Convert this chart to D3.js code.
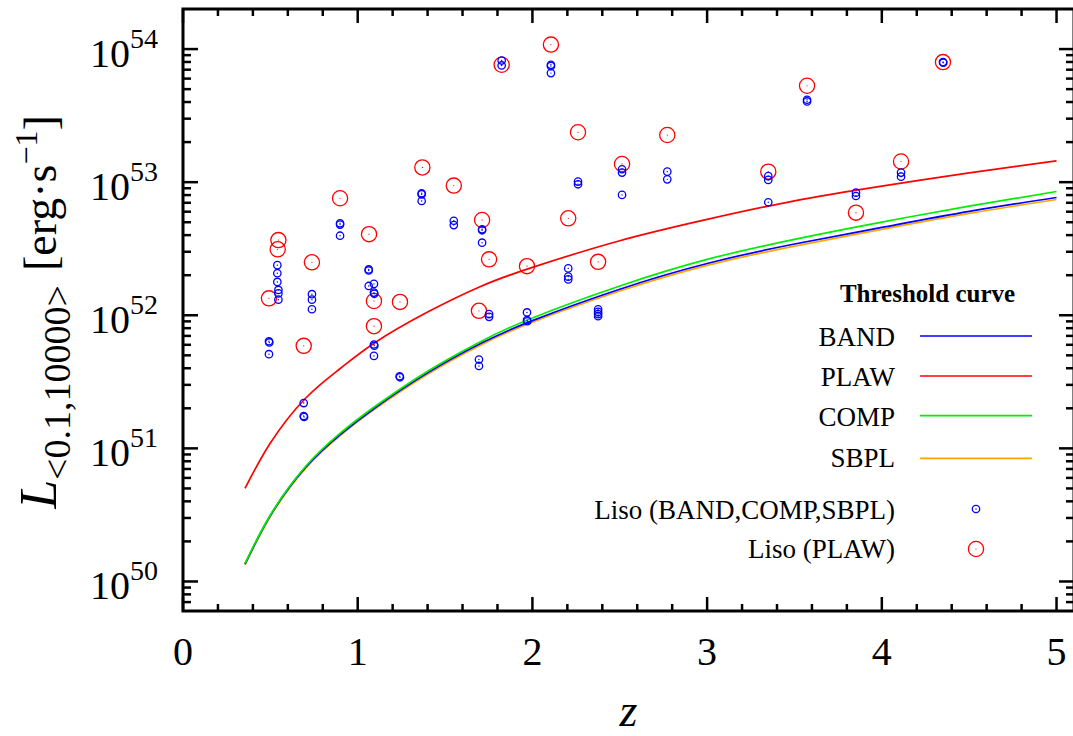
<!DOCTYPE html>
<html>
<head>
<meta charset="utf-8">
<script src="https://cdn.jsdelivr.net/npm/d3@7"></script>
<style>
  html, body { margin: 0; padding: 0; background: #fff; }
  svg { display: block; font-family: "Liberation Serif", "Times New Roman", serif; }
</style>
</head>
<body>
<svg id="chart" width="1073" height="736"></svg>
<script>
// Redshift grid on which the threshold curves are tabulated
const curveZ = [0.355, 0.5, 0.7, 0.9, 1.1, 1.4, 1.7, 2.0, 2.5, 3.0, 3.5, 4.0, 4.5, 5.0];
// Threshold luminosity (erg/s) for each spectral model
const bandCurve = [1.35e50, 3.13e50, 7.16e50, 1.27e51, 2.02e51, 3.69e51, 6.10e51, 9.12e51, 1.57e52, 2.45e52, 3.43e52, 4.57e52, 6.03e52, 7.67e52];
const plawCurve = [5.01e50, 1.096e51, 2.37e51, 3.98e51, 6.25e51, 1.057e52, 1.64e52, 2.29e52, 3.63e52, 5.25e52, 7.24e52, 9.33e52, 1.175e53, 1.445e53];
const compCurve = [1.365e50, 3.16e50, 7.28e50, 1.30e51, 2.07e51, 3.80e51, 6.31e51, 9.55e51, 1.66e52, 2.63e52, 3.72e52, 5.01e52, 6.61e52, 8.51e52];
const sbplCurve = [1.33e50, 3.08e50, 7.05e50, 1.25e51, 1.98e51, 3.61e51, 5.94e51, 8.87e51, 1.52e52, 2.37e52, 3.31e52, 4.42e52, 5.82e52, 7.41e52];

// Isotropic luminosities from the BAND / COMP / SBPL fits
const lisoFitZ = [0.492, 0.494, 0.492, 0.54, 0.54, 0.54, 0.546, 0.546, 0.546, 0.691, 0.691, 0.693,
  0.738, 0.738, 0.738, 0.899, 0.899, 0.899, 1.063, 1.063, 1.063, 1.093, 1.093, 1.095, 1.093, 1.095, 1.093,
  1.240, 1.242, 1.366, 1.366, 1.366, 1.550, 1.550, 1.712, 1.712, 1.712, 1.694, 1.694, 1.752, 1.752,
  1.824, 1.824, 1.969, 1.969, 1.971, 2.106, 2.106, 2.106, 2.205, 2.205, 2.205, 2.261, 2.261,
  2.376, 2.376, 2.376, 2.376, 2.513, 2.513, 2.513, 2.772, 2.772, 3.350, 3.350, 3.350,
  3.572, 3.572, 3.852, 3.852, 4.110, 4.110, 4.350, 4.352];
const lisoFitL = [6.38e51, 6.25e51, 5.10e51, 2.38e52, 2.07e52, 1.78e52, 1.55e52, 1.46e52, 1.31e52, 2.19e51, 1.75e51, 1.72e51,
  1.44e52, 1.31e52, 1.11e52, 4.91e52, 4.80e52, 3.96e52, 2.21e52, 2.17e52, 1.66e52, 1.72e52, 1.48e52, 1.45e52, 6.03e51, 5.90e51, 4.95e51,
  3.48e51, 3.42e51, 8.25e52, 8.10e52, 7.22e52, 5.13e52, 4.76e52, 4.43e52, 4.35e52, 3.51e52, 4.65e51, 4.16e51, 1.02e52, 9.73e51,
  8.20e53, 7.53e53, 1.05e52, 9.19e51, 9.02e51, 7.62e53, 7.45e53, 6.60e53, 2.25e52, 1.95e52, 1.86e52, 1.01e53, 9.64e52,
  1.11e52, 1.06e52, 1.02e52, 9.84e51, 1.25e53, 1.18e53, 8.02e52, 1.20e53, 1.05e53, 1.11e53, 1.04e53, 7.06e52,
  4.16e53, 4.04e53, 8.34e52, 7.87e52, 1.18e53, 1.10e53, 7.98e53, 7.90e53];

// Isotropic luminosities from the PLAW fits
const lisoPlawZ = [0.492, 0.546, 0.542, 0.691, 0.738, 0.899, 1.065, 1.093, 1.093, 1.242, 1.370, 1.550, 1.712, 1.694,
  1.752, 1.824, 1.969, 2.106, 2.205, 2.261, 2.376, 2.513, 2.772, 3.350, 3.572, 3.852, 4.110, 4.350];
const lisoPlawL = [1.34e52, 3.67e52, 3.13e52, 5.89e51, 2.50e52, 7.57e52, 4.07e52, 1.28e52, 8.28e51, 1.26e52, 1.29e53, 9.42e52, 5.20e52, 1.08e52,
  2.63e52, 7.62e53, 2.34e52, 1.08e54, 5.35e52, 2.37e53, 2.52e52, 1.37e53, 2.26e53, 1.20e53, 5.30e53, 5.90e52, 1.43e53, 7.98e53];

// Axis ticks
const xMajorTicks = [0, 1, 2, 3, 4, 5];
const xTickLabels = ["0", "1", "2", "3", "4", "5"];
const yDecadeExponents = [50, 51, 52, 53, 54];

// Legend entries
const curveNames = ["BAND", "PLAW", "COMP", "SBPL"];
const curveColors = ["#0000ff", "#ff0000", "#00ee00", "#ffa500"];

const svg = d3.select("#chart");
const x = d3.scaleLinear().domain([0, 5.1]).range([183, 1074]);
const y = d3.scaleLog().domain([6e49, 2e54]).range([611, 9]);
const [x0, x1] = x.range();
const [yb, yt] = y.range();

// threshold curves
const curveSeries = { BAND: bandCurve, PLAW: plawCurve, COMP: compCurve, SBPL: sbplCurve };
const line = d3.line()
  .x((d, i) => x(curveZ[i]))
  .y(d => y(d))
  .curve(d3.curveNatural);
const drawOrder = ["SBPL", "BAND", "PLAW", "COMP"];
const gCurves = svg.append("g");
drawOrder.forEach(name => {
  gCurves.append("path")
    .attr("d", line(curveSeries[name]))
    .attr("fill", "none")
    .attr("stroke", curveColors[curveNames.indexOf(name)])
    .attr("stroke-width", 1.7);
});

// data markers
function plawMarker(g, cx, cy) {
  g.append("circle").attr("cx", cx).attr("cy", cy).attr("r", 7.6)
    .attr("fill", "none").attr("stroke", "#ff0000").attr("stroke-width", 1.3);
  g.append("circle").attr("cx", cx).attr("cy", cy).attr("r", 0.6).attr("fill", "#ff0000");
}
function fitMarker(g, cx, cy) {
  g.append("circle").attr("cx", cx).attr("cy", cy).attr("r", 3.7)
    .attr("fill", "none").attr("stroke", "#0000ff").attr("stroke-width", 1.3);
  g.append("circle").attr("cx", cx).attr("cy", cy).attr("r", 0.7).attr("fill", "#0000ff");
}
const gRed = svg.append("g");
lisoPlawZ.forEach((z, i) => plawMarker(gRed, x(z), y(lisoPlawL[i])));
const gBlue = svg.append("g");
lisoFitZ.forEach((z, i) => fitMarker(gBlue, x(z), y(lisoFitL[i])));

// frame
svg.append("rect")
  .attr("x", x0).attr("y", yt).attr("width", x1 - x0).attr("height", yb - yt)
  .attr("fill", "none").attr("stroke", "#000").attr("stroke-width", 3);

// inward ticks on all four sides
const gTicks = svg.append("g").attr("stroke", "#000").attr("stroke-width", 2.5);
const xMinor = d3.range(1, 26).map(k => k * 0.2).filter(v => Math.abs(v - Math.round(v)) > 1e-6);
function xTick(v, len) {
  gTicks.append("line").attr("x1", x(v)).attr("x2", x(v)).attr("y1", yb).attr("y2", yb - len);
  gTicks.append("line").attr("x1", x(v)).attr("x2", x(v)).attr("y1", yt).attr("y2", yt + len);
}
xMajorTicks.forEach(v => xTick(v, 14));
xMinor.forEach(v => xTick(v, 7));

function yTick(v, len) {
  gTicks.append("line").attr("x1", x0).attr("x2", x0 + len).attr("y1", y(v)).attr("y2", y(v));
  gTicks.append("line").attr("x1", x1).attr("x2", x1 - len).attr("y1", y(v)).attr("y2", y(v));
}
const [yLo, yHi] = y.domain();
yDecadeExponents.forEach(e => yTick(Math.pow(10, e), 15));
d3.range(49, 55).forEach(e => {
  d3.range(2, 10).forEach(m => {
    const v = m * Math.pow(10, e);
    if (v > yLo && v < yHi) yTick(v, 8);
  });
});

// tick labels
const gLab = svg.append("g").attr("fill", "#000");
xMajorTicks.forEach((v, i) => {
  gLab.append("text").attr("x", x(v)).attr("y", 665)
    .attr("text-anchor", "middle").attr("font-size", 40).text(xTickLabels[i]);
});
yDecadeExponents.forEach(e => {
  const t = gLab.append("text").attr("x", 158).attr("y", y(Math.pow(10, e)) + 18)
    .attr("text-anchor", "end");
  t.append("tspan").attr("font-size", 40).text("10");
  t.append("tspan").attr("font-size", 28).attr("dy", -19).text(String(e));
});

// axis titles
svg.append("text").attr("x", (x0 + x1) / 2).attr("y", 726)
  .attr("text-anchor", "middle").attr("font-size", 46).attr("font-style", "italic").text("z");

const yTitle = svg.append("text")
  .attr("transform", "translate(56,312) rotate(-90)")
  .attr("text-anchor", "middle");
yTitle.append("tspan").attr("font-size", 52).attr("font-style", "italic").text("L");
yTitle.append("tspan").attr("font-size", 38).attr("dy", 14).text("<0.1,10000>");
yTitle.append("tspan").attr("font-size", 46).attr("dy", -14).attr("dx", 14).text("[erg·s");
yTitle.append("tspan").attr("font-size", 32).attr("dy", -19).text("−1");
yTitle.append("tspan").attr("font-size", 46).attr("dy", 19).text("]");

// legend
const gLeg = svg.append("g");
gLeg.append("text").attr("x", 927.5).attr("y", 302).attr("text-anchor", "middle")
  .attr("font-size", 25).attr("font-weight", "bold").text("Threshold curve");
const legLineY = [336, 376, 415.7, 458.3];
const legTextY = [345.5, 385.5, 425.5, 467];
curveNames.forEach((name, i) => {
  gLeg.append("text").attr("x", 895).attr("y", legTextY[i]).attr("text-anchor", "end")
    .attr("font-size", 27).text(name);
  gLeg.append("line").attr("x1", 920).attr("x2", 1032).attr("y1", legLineY[i]).attr("y2", legLineY[i])
    .attr("stroke", curveColors[i]).attr("stroke-width", 1.7);
});
gLeg.append("text").attr("x", 895).attr("y", 518.5).attr("text-anchor", "end")
  .attr("font-size", 27).text("Liso (BAND,COMP,SBPL)");
fitMarker(gLeg, 976, 509);
gLeg.append("text").attr("x", 895).attr("y", 557.5).attr("text-anchor", "end")
  .attr("font-size", 27).text("Liso (PLAW)");
plawMarker(gLeg, 976, 549);
</script>
</body>
</html>
